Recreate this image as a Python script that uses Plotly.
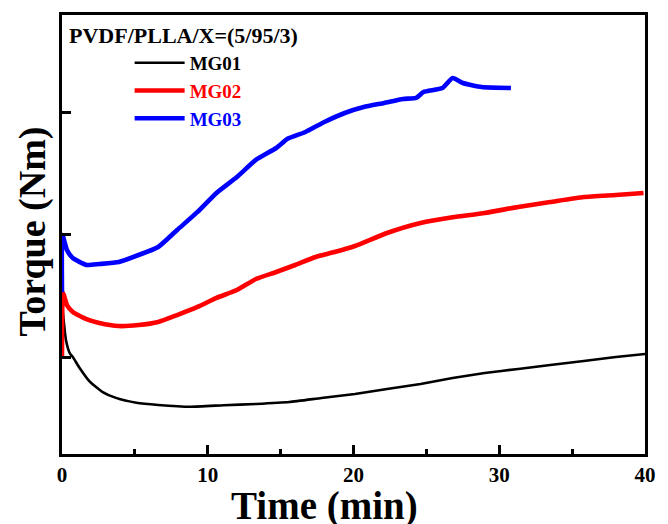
import plotly.graph_objects as go

# ---- data (torque axis is unlabelled, arbitrary units) ----
mg01_time = [0.05, 0.27, 0.54, 0.74, 1.21, 1.89, 2.76, 3.70, 5.10, 6.60, 8.80, 11.1, 13.3, 15.6,
             17.8, 20.1, 22.3, 24.6, 26.8, 29.0, 31.3, 33.5, 35.8, 38.0, 40.0]
mg01_torque = [13.8, 11.4, 10.3, 10.0, 9.1, 8.0, 7.15, 6.65, 6.25, 6.07, 5.92, 6.05, 6.15, 6.31,
               6.64, 6.97, 7.38, 7.79, 8.28, 8.69, 9.02, 9.34, 9.67, 10.0, 10.25]

mg02_time = [0.0, 0.07, 0.34, 0.74, 1.68, 2.56, 3.90, 5.25, 6.60, 7.90, 9.30, 10.6, 12.0, 13.3,
             14.7, 16.0, 17.4, 18.7, 20.1, 22.3, 24.6, 26.8, 29.0, 31.3, 33.5, 35.8, 38.0, 39.9]
mg02_torque = [10.0, 15.25, 14.26, 13.69, 13.11, 12.79, 12.54, 12.62, 12.87, 13.44, 14.10, 14.84,
               15.49, 16.39, 16.97, 17.54, 18.20, 18.60, 19.10, 20.16, 20.98, 21.45, 21.80, 22.30,
               22.70, 23.11, 23.28, 23.44]

mg03_time = [0.0, 0.03, 0.34, 0.74, 1.68, 2.56, 3.90, 5.25, 6.60, 7.90, 9.30, 10.6, 12.0, 13.3,
             14.7, 15.5, 16.7, 18.0, 19.4, 20.7, 22.1, 23.4, 24.3, 24.8, 26.1, 26.8, 27.5, 28.8, 30.8]
mg03_torque = [15.3, 20.0, 18.77, 18.11, 17.54, 17.62, 17.79, 18.36, 19.02, 20.41, 21.89, 23.44,
               24.75, 26.15, 27.13, 27.9, 28.44, 29.26, 30.0, 30.49, 30.82, 31.15, 31.23, 31.72,
               32.05, 32.87, 32.46, 32.13, 32.05]

series_names = ["MG01", "MG02", "MG03"]
series_colors = ["#000000", "#ff0000", "#0000ff"]
legend_title = "PVDF/PLLA/X=(5/95/3)"
x_title = "Time (min)"
y_title = "Torque (Nm)"
x_ticks = [0, 10, 20, 30, 40]
y_ticks = [10, 20, 30]

FONT = "Liberation Serif, Times New Roman, serif"

fig = go.Figure()
data = [(mg01_time, mg01_torque), (mg02_time, mg02_torque), (mg03_time, mg03_torque)]
widths = [2.6, 4.6, 4.6]
for (xs, ys), name, col, w in zip(data, series_names, series_colors, widths):
    fig.add_trace(go.Scatter(
        x=xs, y=ys, mode="lines", name=f"<span style='color:{col}'>{name}</span>",
        line=dict(color=col, width=w, shape="spline", smoothing=0.5),
        showlegend=True,
    ))

fig.update_layout(
    width=668, height=524,
    margin=dict(l=62, r=12, t=15, b=70),
    paper_bgcolor="white", plot_bgcolor="white",
    font=dict(family=FONT, size=20, color="black", weight="bold"),
    legend=dict(
        x=0.116, y=0.934, xanchor="left", yanchor="top",
        bgcolor="rgba(0,0,0,0)", borderwidth=0,
        font=dict(family=FONT, size=19, weight="bold"),
        itemwidth=50, tracegroupgap=0,
    ),
    showlegend=True,
)

fig.update_xaxes(
    range=[0, 40], tickvals=x_ticks, ticktext=[str(v) for v in x_ticks],
    ticks="inside", ticklen=9, tickwidth=2.5, tickcolor="black",
    minor=dict(dtick=5, tick0=0, ticks="inside", ticklen=5, tickwidth=2.5, tickcolor="black"),
    showline=True, linewidth=3, linecolor="black", mirror=True,
    showgrid=False, zeroline=False,
    tickfont=dict(family=FONT, size=21, color="black", weight="bold"),
)
fig.update_yaxes(
    range=[2.05, 38.03], tickvals=y_ticks, showticklabels=False,
    ticks="inside", ticklen=9, tickwidth=2.5, tickcolor="black",
    showline=True, linewidth=3, linecolor="black", mirror=True,
    showgrid=False, zeroline=False,
)

fig.add_annotation(text=legend_title, xref="paper", yref="paper", x=0.008, y=0.954,
                   xanchor="left", yanchor="middle", showarrow=False,
                   font=dict(family=FONT, size=22, color="black", weight="bold"))
fig.add_annotation(text=x_title, xref="paper", yref="paper", x=0.4495, y=-0.119,
                   xanchor="center", yanchor="middle", showarrow=False,
                   font=dict(family=FONT, size=39, color="black", weight="bold"))
fig.add_annotation(text=y_title, xref="paper", yref="paper", x=-0.0505, y=0.5057,
                   xanchor="center", yanchor="middle", showarrow=False, textangle=-90,
                   font=dict(family=FONT, size=38, color="black", weight="bold"))

fig.write_html("out.html", config={"displayModeBar": False},
               post_script="document.body.style.margin='0';document.body.style.overflow='hidden';")
